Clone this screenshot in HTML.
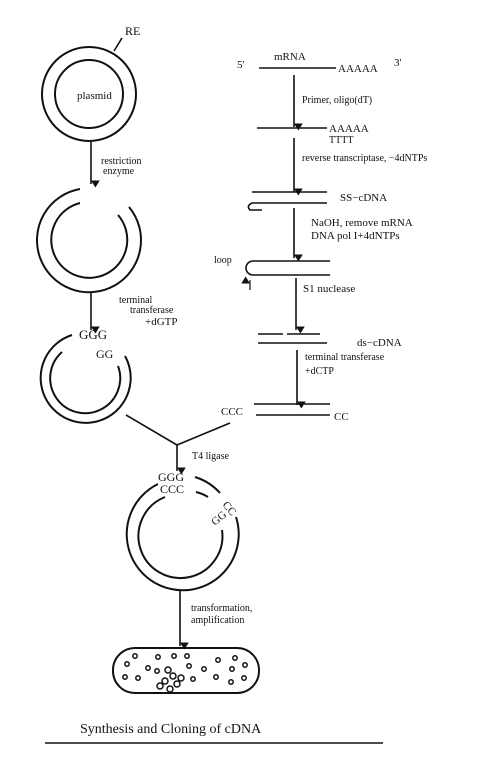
<!DOCTYPE html>
<html><head><meta charset="utf-8"><style>
html,body{margin:0;padding:0;background:#fff;}
svg{display:block;}
text{font-family:"Liberation Serif",serif;fill:#111;}
</style></head><body>
<svg width="503" height="776" viewBox="0 0 503 776">
<defs>
<marker id="a" viewBox="0 0 8 10" markerWidth="7" markerHeight="9" refX="4" refY="10" orient="auto-start-reverse" markerUnits="userSpaceOnUse"><path d="M0,0 L8,5 L0,10 Z" fill="#111"/></marker></defs>
<g stroke="#111" fill="none" stroke-width="1.6">
<circle cx="89" cy="94" r="47" stroke-width="2"/>
<circle cx="89" cy="94" r="34" stroke-width="2"/>
<line x1="122" y1="38" x2="114" y2="51"/>
<line x1="91" y1="142" x2="91" y2="184" marker-end="url(#a)"/>
<path d="M80,189 A52,52 0 1 0 129,207" stroke-width="2"/>
<path d="M80,203 A38,38 0 1 0 118,215" stroke-width="2"/>
<line x1="91" y1="293" x2="91" y2="330" marker-end="url(#a)"/>
<path d="M72,335 A45,45 0 1 0 125,356" stroke-width="2"/>
<path d="M62,352 A35,35 0 1 0 118,366" stroke-width="2"/>
<line x1="126" y1="415" x2="177" y2="445"/>
<line x1="230" y1="423" x2="177" y2="445"/>
<line x1="177" y1="445" x2="177" y2="471" marker-end="url(#a)"/>
<path d="M158,484 A56,56 0 1 0 236,517" stroke-width="2"/>
<path d="M195,477 A56,56 0 0 1 220,493" stroke-width="2"/>
<path d="M165,497 A42,42 0 1 0 222,530" stroke-width="2"/>
<path d="M196,492 A42,42 0 0 1 208,497" stroke-width="2"/>
<line x1="180" y1="590" x2="180" y2="646" marker-end="url(#a)"/>
<rect x="113" y="648" width="146" height="45" rx="22" stroke-width="2"/>
<line x1="259" y1="68" x2="336" y2="68"/>
<line x1="294" y1="75" x2="294" y2="127" marker-end="url(#a)"/>
<line x1="257" y1="128" x2="327" y2="128"/>
<line x1="294" y1="138" x2="294" y2="192" marker-end="url(#a)"/>
<line x1="252" y1="192" x2="327" y2="192"/>
<path d="M327,203 L252,203 Q246,206 250,210 L262,210"/>
<line x1="294" y1="208" x2="294" y2="258" marker-end="url(#a)"/>
<path d="M330,261 L253,261 A7,7 0 0 0 253,275 L330,275"/>
<line x1="250" y1="290" x2="250" y2="280" marker-end="url(#a)" stroke-width="1.2"/>
<line x1="296" y1="278" x2="296" y2="330" marker-end="url(#a)"/>
<line x1="258" y1="334" x2="283" y2="334"/>
<line x1="287" y1="334" x2="320" y2="334"/>
<line x1="258" y1="343" x2="327" y2="343"/>
<line x1="297" y1="350" x2="297" y2="405" marker-end="url(#a)"/>
<line x1="254" y1="404" x2="330" y2="404"/>
<line x1="256" y1="415" x2="330" y2="415"/>
<line x1="45" y1="743" x2="383" y2="743" stroke-width="1.5"/>
</g>
<g stroke="#111" fill="none" stroke-width="1.5">
<circle cx="127" cy="664" r="2.2"/><circle cx="135" cy="656" r="2.2"/><circle cx="138" cy="678" r="2.2"/><circle cx="125" cy="677" r="2.2"/><circle cx="148" cy="668" r="2.2"/><circle cx="157" cy="671" r="2.2"/><circle cx="158" cy="657" r="2.2"/><circle cx="174" cy="656" r="2.2"/><circle cx="187" cy="656" r="2.2"/><circle cx="189" cy="666" r="2.2"/><circle cx="193" cy="679" r="2.2"/><circle cx="204" cy="669" r="2.2"/><circle cx="218" cy="660" r="2.2"/><circle cx="235" cy="658" r="2.2"/><circle cx="245" cy="665" r="2.2"/><circle cx="232" cy="669" r="2.2"/><circle cx="216" cy="677" r="2.2"/><circle cx="231" cy="682" r="2.2"/><circle cx="244" cy="678" r="2.2"/>
<circle cx="168" cy="670" r="3"/><circle cx="173" cy="676" r="3"/><circle cx="165" cy="681" r="3"/><circle cx="177" cy="684" r="3"/><circle cx="160" cy="686" r="3"/><circle cx="170" cy="689" r="3"/><circle cx="181" cy="678" r="3"/>
</g>
<g font-size="11">
<text x="125" y="35" font-size="12">RE</text>
<text x="77" y="99" font-size="11">plasmid</text>
<text x="101" y="164" font-size="10">restriction</text>
<text x="103" y="174" font-size="10">enzyme</text>
<text x="119" y="303" font-size="10">terminal</text>
<text x="130" y="313" font-size="10">transferase</text>
<text x="145" y="325" font-size="11">+dGTP</text>
<text x="79" y="339" font-size="13">GGG</text>
<text x="96" y="358" font-size="12">GG</text>
<text x="221" y="415" font-size="11">CCC</text>
<text x="334" y="420" font-size="11">CC</text>
<text x="192" y="459" font-size="10">T4 ligase</text>
<text x="158" y="481" font-size="12">GGG</text>
<text x="160" y="493" font-size="12">CCC</text>
<text x="215" y="526" font-size="11" transform="rotate(-40 215 526)">GG</text>
<text x="222" y="505" font-size="11" transform="rotate(50 222 505)">CC</text>
<text x="191" y="611" font-size="10">transformation,</text>
<text x="191" y="623" font-size="10">amplification</text>
<text x="237" y="68" font-size="11">5'</text>
<text x="274" y="60" font-size="11">mRNA</text>
<text x="338" y="72" font-size="11">AAAAA</text>
<text x="394" y="66" font-size="11">3'</text>
<text x="302" y="103" font-size="10">Primer, oligo(dT)</text>
<text x="329" y="132" font-size="11">AAAAA</text>
<text x="329" y="143" font-size="10">TTTT</text>
<text x="302" y="161" font-size="10">reverse transcriptase, −4dNTPs</text>
<text x="340" y="201" font-size="11">SS−cDNA</text>
<text x="311" y="226" font-size="11">NaOH, remove mRNA</text>
<text x="311" y="239" font-size="11">DNA pol I+4dNTPs</text>
<text x="214" y="263" font-size="10">loop</text>
<text x="303" y="292" font-size="11">S1 nuclease</text>
<text x="357" y="346" font-size="11">ds−cDNA</text>
<text x="305" y="360" font-size="10">terminal transferase</text>
<text x="305" y="374" font-size="10">+dCTP</text>
<text x="80" y="733" font-size="14">Synthesis and Cloning of cDNA</text>
</g>
</svg>
</body></html>
